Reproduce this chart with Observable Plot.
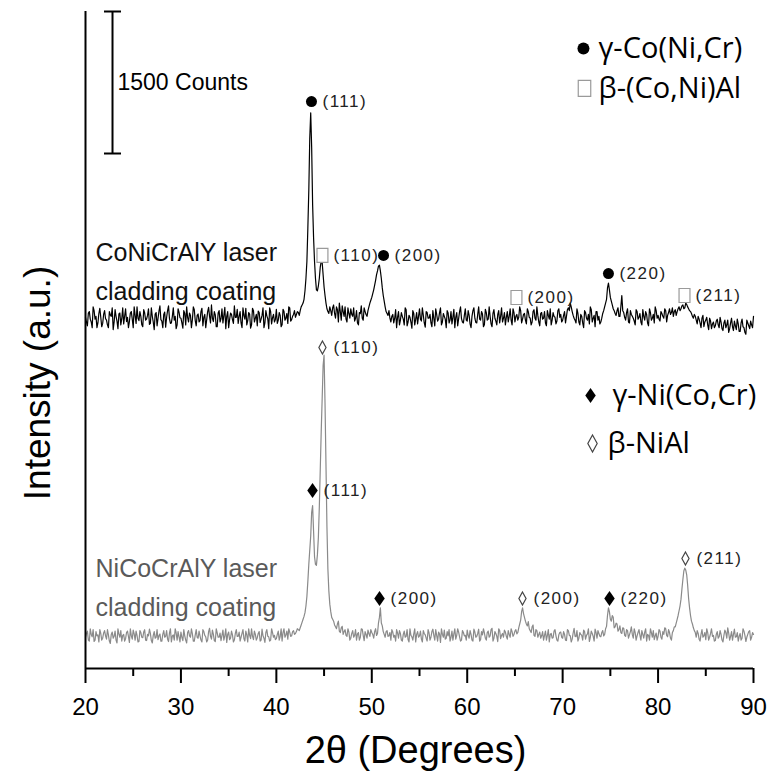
<!DOCTYPE html>
<html>
<head>
<meta charset="utf-8">
<script src="https://cdn.jsdelivr.net/npm/d3@7"></script>
<script src="https://cdn.jsdelivr.net/npm/@observablehq/plot@0.6"></script>
<style>
  html, body { margin: 0; padding: 0; background: #fff; }
  #chart svg { display: block; }
</style>
</head>
<body>
<div id="chart"></div>
<script>
// ---- Data ----
// 2θ grids: readings at 20.0, 20.2, ... 90.0 and at 20.1, 20.3, ... 89.9
const twoTheta = d3.range(351).map(i => Math.round((20 + i * 0.2) * 10) / 10);
const twoThetaMid = d3.range(350).map(i => Math.round((20.1 + i * 0.2) * 10) / 10);

// CoNiCrAlY laser cladding coating (counts, before vertical offset)
const coniIntensity = [
  410,320,470,360,520,390,300,450,410,345,
  480,380,300,435,510,360,420,290,455,395,
  340,500,410,365,470,300,430,520,375,420,
  310,455,390,500,345,420,280,460,400,530,
  370,440,305,480,395,350,510,420,330,465,
  400,295,450,520,360,430,385,490,320,445,
  375,505,410,300,470,420,540,365,435,310,
  480,395,350,515,420,300,455,385,530,410,
  345,470,300,430,505,375,445,330,480,400,
  320,460,390,510,350,425,290,470,405,360,
  495,380,430,330,470,400,345,510,385,440,
  410,470,430,520,560,690,1000,1750,2570,1600,
  1000,700,740,940,990,730,560,470,520,430,
  540,400,490,560,380,470,520,360,450,500,
  420,370,480,330,450,400,510,440,480,560,
  620,700,800,900,960,820,640,520,450,480,
  360,440,400,300,470,380,420,330,490,360,
  410,295,450,390,340,500,370,430,305,460,
  400,350,480,320,440,390,510,360,420,300,
  455,380,340,495,410,320,470,395,350,500,
  370,430,300,480,400,350,520,380,445,330,
  460,390,420,310,490,370,440,350,510,400,
  330,470,420,380,500,360,440,410,480,390,
  450,340,470,400,360,490,380,430,320,460,
  400,350,480,390,330,460,410,370,500,440,
  380,470,420,510,560,470,400,350,450,330,
  420,300,460,380,340,490,400,310,470,420,
  360,450,520,600,770,620,540,480,430,510,
  420,640,460,380,500,350,440,400,330,470,
  410,360,490,380,440,320,460,400,350,480,
  430,370,450,400,480,430,500,460,420,490,
  470,520,500,540,510,545,500,470,420,440,
  380,420,350,400,310,380,330,400,290,360,
  320,390,300,360,270,380,330,250,350,310,
  370,280,340,260,390,300,230,350,290,330,
  420
];
const coniIntensityMid = [
  360,455,390,300,480,420,350,505,310,440,
  395,330,470,420,280,490,370,445,330,510,
  420,365,300,455,390,520,345,400,470,330,
  490,380,430,335,510,360,445,320,475,385,
  300,465,410,530,345,420,380,290,500,405,
  350,480,330,410,455,300,520,375,430,360,
  470,320,440,385,515,350,400,470,310,455,
  360,500,430,290,470,385,440,345,410,495,
  420,350,510,390,330,460,295,505,360,440,
  475,355,430,300,480,395,510,340,440,385,
  345,460,310,495,380,450,520,370,420,480,
  440,460,480,540,600,820,1350,2300,2200,1250,
  820,690,820,1000,860,640,500,450,480,510,
  450,520,360,470,530,420,390,510,400,440,
  510,400,350,460,530,380,470,420,520,590,
  660,750,860,950,900,720,580,470,430,400,
  420,350,490,410,330,460,390,510,320,430,
  360,480,330,460,420,390,510,350,470,400,
  440,310,400,500,370,460,330,450,390,480,
  350,470,410,300,460,395,520,360,430,380,
  480,340,420,510,355,440,390,470,310,495,
  380,520,340,450,400,330,480,420,360,460,
  410,360,500,330,460,420,380,520,350,440,
  380,500,410,330,470,400,520,360,450,390,
  470,320,430,500,380,420,340,480,410,360,
  430,350,490,480,520,430,380,500,360,440,
  350,480,400,440,520,360,430,470,380,340,
  400,480,560,720,700,580,500,450,480,420,
  520,480,410,460,360,480,420,370,490,390,
  450,330,420,470,350,500,380,440,520,400,
  390,470,420,500,360,460,440,510,470,430,
  500,480,530,500,560,520,480,450,400,420,
  340,390,300,430,360,410,280,370,340,300,
  370,330,410,290,350,300,380,290,400,270,
  320,390,260,350,310,250,380,320,370,300
];
const coniOffset = 3300;

// NiCoCrAlY laser cladding coating (counts)
const nicoIntensity = [
  330,395,290,360,410,300,345,280,370,320,
  400,310,355,265,385,340,300,420,330,290,
  360,315,395,275,345,405,300,350,285,380,
  325,410,295,345,370,270,390,330,305,365,
  290,400,340,310,375,280,355,420,300,335,
  385,295,345,270,400,330,365,290,410,320,
  345,280,390,335,300,425,310,360,285,375,
  330,295,405,345,275,385,320,355,300,410,
  340,290,370,315,395,280,350,420,305,360,
  325,390,300,345,275,410,335,300,380,350,
  315,395,340,290,420,355,310,385,345,400,
  370,420,400,460,520,590,760,1100,1400,1720,
  1180,1090,1380,2100,2850,3310,2150,1050,680,540,
  500,440,470,395,430,360,410,340,385,320,
  400,350,300,380,330,415,295,360,405,340,
  380,320,420,370,540,480,390,330,400,345,
  300,385,350,410,320,370,290,395,340,305,
  420,335,365,280,390,345,310,400,355,290,
  375,330,415,300,350,385,275,360,405,320,
  345,290,395,365,310,420,335,300,380,350,
  405,320,360,290,385,340,415,305,355,375,
  300,395,345,425,320,370,285,400,350,330,
  385,310,360,420,340,395,365,430,510,640,
  540,470,495,400,440,350,410,330,385,345,
  300,395,350,280,370,325,410,300,355,385,
  320,360,295,400,345,310,425,335,290,380,
  350,405,310,365,285,395,340,415,320,370,
  335,400,360,445,640,520,560,430,480,395,
  450,370,425,340,400,355,440,320,380,345,
  410,300,360,385,290,350,420,330,305,375,
  340,395,310,360,420,335,380,300,400,440,
  520,610,730,940,1060,990,740,560,470,400,
  330,370,290,410,345,305,380,330,420,350,
  295,390,335,360,280,405,320,375,340,300,
  415,335,290,370,320,395,285,360,400,330,
  360
];
const nicoIntensityMid = [
  370,300,420,335,285,390,355,410,300,375,
  345,410,290,360,320,395,270,365,400,350,
  290,380,340,420,310,365,395,280,400,330,
  385,300,360,415,295,350,320,410,345,290,
  360,330,400,285,420,345,300,375,390,280,
  330,410,300,380,345,420,290,355,330,395,
  300,410,350,280,390,340,405,295,420,330,
  375,350,300,420,360,305,395,280,370,340,
  385,330,410,290,355,420,315,340,395,300,
  370,290,415,320,380,340,290,420,330,305,
  360,300,420,380,330,395,420,340,390,360,
  390,410,430,490,550,660,920,1250,1650,1450,
  1100,1200,1700,2500,3200,2800,1500,820,600,520,
  460,420,500,380,445,390,350,420,300,370,
  330,410,365,300,420,350,390,320,370,410,
  360,390,350,480,640,450,360,390,340,380,
  410,330,290,375,400,300,360,330,410,280,
  350,300,420,360,330,395,280,370,320,410,
  300,390,350,410,290,365,420,330,310,390,
  410,330,300,420,350,385,290,400,345,300,
  350,400,300,415,330,370,290,390,420,320,
  380,330,410,290,390,340,420,315,370,405,
  340,400,330,390,360,410,380,470,600,580,
  500,450,420,380,460,340,400,360,320,390,
  350,300,410,360,320,395,345,290,380,330,
  390,300,410,350,280,375,340,400,320,360,
  300,390,350,420,330,370,290,380,400,340,
  380,345,420,560,600,500,540,440,470,410,
  380,430,350,410,320,390,360,420,300,380,
  350,400,320,420,360,300,380,400,345,300,
  410,330,390,430,350,410,320,380,440,480,
  560,660,840,1030,1040,880,640,500,430,380,
  400,310,360,330,380,420,300,370,340,290,
  360,320,400,300,350,380,430,300,390,360,
  330,380,340,300,420,350,330,390,300,380
];

// Axis ticks
const xTicks = [20, 30, 40, 50, 60, 70, 80, 90];
const xMinorTicks = [25, 35, 45, 55, 65, 75, 85];

// Peak annotations
const peakTheta  = [43.68, 44.83, 51.23, 65.16, 74.80, 82.77, 44.83, 43.79, 50.81, 65.79, 74.91, 82.87];
const peakLabelY = [5989, 4363, 4363, 3919, 4172, 3940, 3391, 1880, 739, 739, 739, 1162];
const peakHkl    = ["(111)","(110)","(200)","(200)","(220)","(211)","(110)","(111)","(200)","(200)","(220)","(211)"];
const peakPhase  = ["gCo","bCoNi","gCo","bCoNi","gCo","bCoNi","bNiAl","gNi","gNi","bNiAl","gNi","bNiAl"];

// Legend
const legendPhase = ["gCo", "bCoNi", "gNi", "bNiAl"];
const legendLabel = ["γ-Co(Ni,Cr)", "β-(Co,Ni)Al", "γ-Ni(Co,Cr)", "β-NiAl"];
const legendTheta = [72.18, 72.29, 72.92, 73.13];
const legendTextTheta = [73.76, 73.76, 75.22, 74.70];
const legendY = [6549, 6127, 2884, 2377];

// Sample labels
const sampleLines = ["CoNiCrAlY laser", "cladding coating", "NiCoCrAlY laser", "cladding coating"];
const sampleLineY = [4384, 3972, 1056, 644];
const sampleColor = ["#111", "#111", "#5a5a5a", "#5a5a5a"];

// Scale bar
const scaleBarCounts = 1500;
const scaleBarTop = 6940;

// ---- Build tables ----
function merge(grid, vals, gridMid, valsMid, offset) {
  const out = [];
  grid.forEach((t, i) => out.push({theta: t, counts: vals[i] + offset}));
  gridMid.forEach((t, i) => out.push({theta: t, counts: valsMid[i] + offset}));
  return out.sort((a, b) => a.theta - b.theta);
}
const coniData = merge(twoTheta, coniIntensity, twoThetaMid, coniIntensityMid, coniOffset);
const nicoData = merge(twoTheta, nicoIntensity, twoThetaMid, nicoIntensityMid, 0);
const peaks = peakTheta.map((t, i) => ({theta: t, y: peakLabelY[i], hkl: peakHkl[i], phase: peakPhase[i]}));
const legend = legendPhase.map((p, i) => ({phase: p, label: legendLabel[i], theta: legendTheta[i], textTheta: legendTextTheta[i], y: legendY[i]}));
const samples = sampleLines.map((s, i) => ({text: s, y: sampleLineY[i], color: sampleColor[i]}));

// ---- Custom symbols ----
const openSquare = {draw(ctx, size) { const r = Math.sqrt(size / Math.PI), w = r * 0.78;
  ctx.moveTo(-w, -r); ctx.lineTo(w, -r); ctx.lineTo(w, r); ctx.lineTo(-w, r); ctx.closePath(); }};
const tallDiamond = {draw(ctx, size) { const r = Math.sqrt(size / Math.PI), w = r * 0.7;
  ctx.moveTo(0, -r); ctx.lineTo(w, 0); ctx.lineTo(0, r); ctx.lineTo(-w, 0); ctx.closePath(); }};
const lozenge = {draw(ctx, size) { const r = Math.sqrt(size / Math.PI), w = r * 0.55;
  ctx.moveTo(0, -r); ctx.lineTo(w, 0); ctx.lineTo(0, r); ctx.lineTo(-w, 0); ctx.closePath(); }};

const phaseStyle = {
  gCo:   {symbol: "circle",    fill: "#000", stroke: "none",    r: 5.5, lr: 6},
  bCoNi: {symbol: openSquare,  fill: "#fff", stroke: "#9a9a9a", r: 7,   lr: 8},
  gNi:   {symbol: tallDiamond, fill: "#000", stroke: "none",    r: 7.5, lr: 7.5},
  bNiAl: {symbol: lozenge,     fill: "#fff", stroke: "#444",    r: 6.5, lr: 8.5}
};

const symbolMarks = [];
for (const [phase, s] of Object.entries(phaseStyle)) {
  symbolMarks.push(Plot.dot(peaks.filter(d => d.phase === phase), {
    x: "theta", y: "y", symbol: s.symbol, r: s.r, fill: s.fill, stroke: s.stroke, strokeWidth: 1.2
  }));
  symbolMarks.push(Plot.dot(legend.filter(d => d.phase === phase), {
    x: "theta", y: "y", symbol: s.symbol, r: s.lr, fill: s.fill, stroke: s.stroke, strokeWidth: 1.2
  }));
}

const chart = Plot.plot({
  width: 768,
  height: 774,
  marginLeft: 85,
  marginRight: 15,
  marginTop: 11,
  marginBottom: 106,
  x: {domain: [20, 90]},
  y: {domain: [0, 6940], axis: null},
  style: {fontFamily: "'Liberation Sans', Arial, sans-serif", background: "#fff", overflow: "visible", color: "#000"},
  marks: [
    // data
    Plot.line(nicoData, {x: "theta", y: "counts", stroke: "#8a8a8a", strokeWidth: 1.2}),
    Plot.line(coniData, {x: "theta", y: "counts", stroke: "#000", strokeWidth: 1.2}),
    // axes frame
    Plot.ruleY([0], {strokeWidth: 2}),
    Plot.ruleX([20], {strokeWidth: 2}),
    Plot.axisX(xTicks, {tickSize: 15, tickPadding: 14, fontSize: 24, strokeWidth: 2, label: null}),
    Plot.axisX(xMinorTicks, {tickSize: 8, tickFormat: () => "", strokeWidth: 2, label: null}),
    Plot.text(["2θ (Degrees)"], {text: d => d, frameAnchor: "bottom", dx: -4, dy: 82, fontSize: 38, lineAnchor: "middle", textAnchor: "middle"}),
    Plot.text(["Intensity (a.u.)"], {text: d => d, frameAnchor: "left", dx: -47, dy: 43, rotate: -90, fontSize: 37, lineAnchor: "middle", textAnchor: "middle"}),
    // scale bar
    Plot.ruleX([22.83], {y1: scaleBarTop, y2: scaleBarTop - scaleBarCounts, strokeWidth: 2}),
    Plot.ruleY([scaleBarTop, scaleBarTop - scaleBarCounts], {x1: 21.99, x2: 23.77, strokeWidth: 2}),
    Plot.text([scaleBarCounts + " Counts"], {text: d => d, x: 23.35, y: 6190, textAnchor: "start", lineAnchor: "middle", fontSize: 23}),
    // sample labels
    Plot.text(samples, {text: "text", x: 21.05, y: "y", fill: "color", textAnchor: "start", lineAnchor: "middle", fontSize: 25}),
    // peak labels
    ...symbolMarks,
    Plot.text(peaks, {x: "theta", y: "y", text: "hkl", dx: 11, textAnchor: "start", lineAnchor: "middle",
      fontSize: 17, fill: "#222"}),
    // legend
    Plot.text(legend, {x: "textTheta", y: "y", text: "label", textAnchor: "start", lineAnchor: "middle",
      fontSize: 29, fontFamily: "'Open Sans', 'Noto Sans', sans-serif", fill: "#000"})
  ]
});
// widen the tracking of the (hkl) labels as in the reference
d3.select(chart).selectAll("text").filter(function() { return /^\(\d{3}\)$/.test(this.textContent); })
  .attr("letter-spacing", "1.5");
document.getElementById("chart").appendChild(chart);
</script>
</body>
</html>
